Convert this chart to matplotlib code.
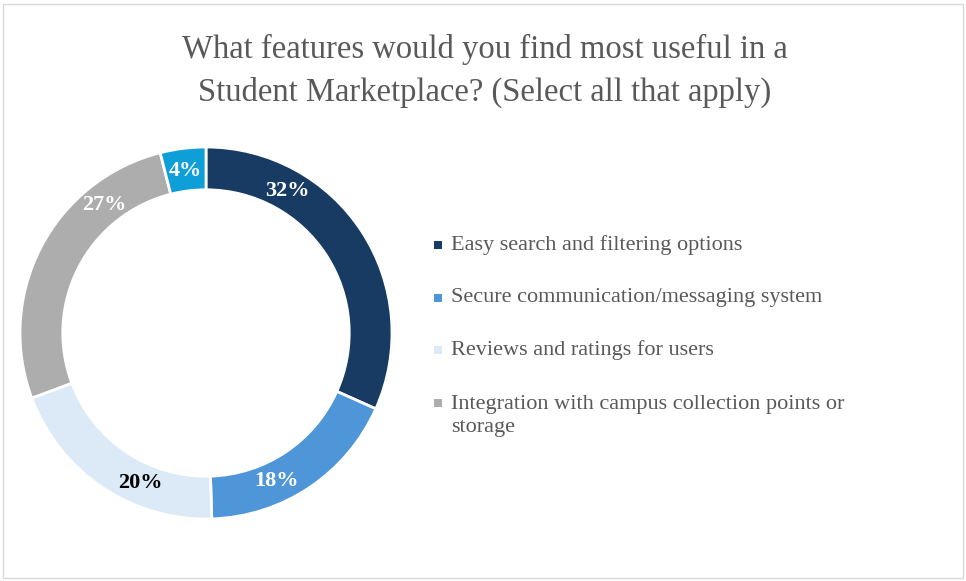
import matplotlib
matplotlib.use('Agg')
import matplotlib.pyplot as plt
from matplotlib.patches import Rectangle
import numpy as np

# survey answers, share of respondents (%)
features = ['Easy search and filtering options',
            'Secure communication/messaging system',
            'Reviews and ratings for users',
            'Integration with campus collection points or\nstorage',
            'Other']
shares = [32, 18, 20, 27, 4]
colors = ['#173B63', '#4F96D8', '#DCE9F6', '#ADADAD', '#0E9FD8']
label_colors = ['white', 'white', 'black', 'white', 'white']
legend_count = 4

# where each percentage sits on the ring (degrees)
label_angles = [60, -64.5, -113.5, 128.3, 97.4]

W, H = 966, 581
fig = plt.figure(figsize=(W / 100, H / 100), dpi=100)

# thin frame round the chart area
fig.patches.append(Rectangle((3 / W, 3 / H), 960 / W, 574 / H, transform=fig.transFigure,
                             fill=False, edgecolor='#D9D9D9', linewidth=1))

fig.text(485 / W, 1 - 71 / H,
         'What features would you find most useful in a\nStudent Marketplace? (Select all that apply)',
         ha='center', va='center', fontsize=23.5, color='#595959',
         family='Liberation Serif', linespacing=1.47)

# donut
ax = fig.add_axes([20 / W, 62 / H, 372 / W, 372 / H])
wedges, texts = ax.pie(shares, colors=colors, startangle=90, counterclock=False,
                       radius=1, wedgeprops=dict(width=0.23, edgecolor='white', linewidth=2))
ax.set_xlim(-1, 1)
ax.set_ylim(-1, 1)
ax.set_aspect('equal')
ax.axis('off')

# percentage labels on the ring
for val, tc, a in zip(shares, label_colors, label_angles):
    ang = np.deg2rad(a)
    r = 0.88
    ax.text(r * np.cos(ang), r * np.sin(ang), '%d%%' % val, ha='center', va='center',
            fontsize=16, fontweight='bold', color=tc, family='Liberation Serif')

# legend on the right
y0 = 245
for i in range(legend_count):
    y = y0 + i * 52.7
    fig.patches.append(Rectangle((434 / W, 1 - (y + 4) / H), 8 / W, 8 / H,
                                 transform=fig.transFigure, facecolor=colors[i],
                                 edgecolor='none'))
    multi = '\n' in features[i]
    fig.text(451 / W, 1 - (y - 8) / H if multi else 1 - y / H, features[i], ha='left',
             va='top' if multi else 'center',
             fontsize=16, color='#595959', family='Liberation Serif', linespacing=1.27)

fig.savefig('out.png', dpi=100)
